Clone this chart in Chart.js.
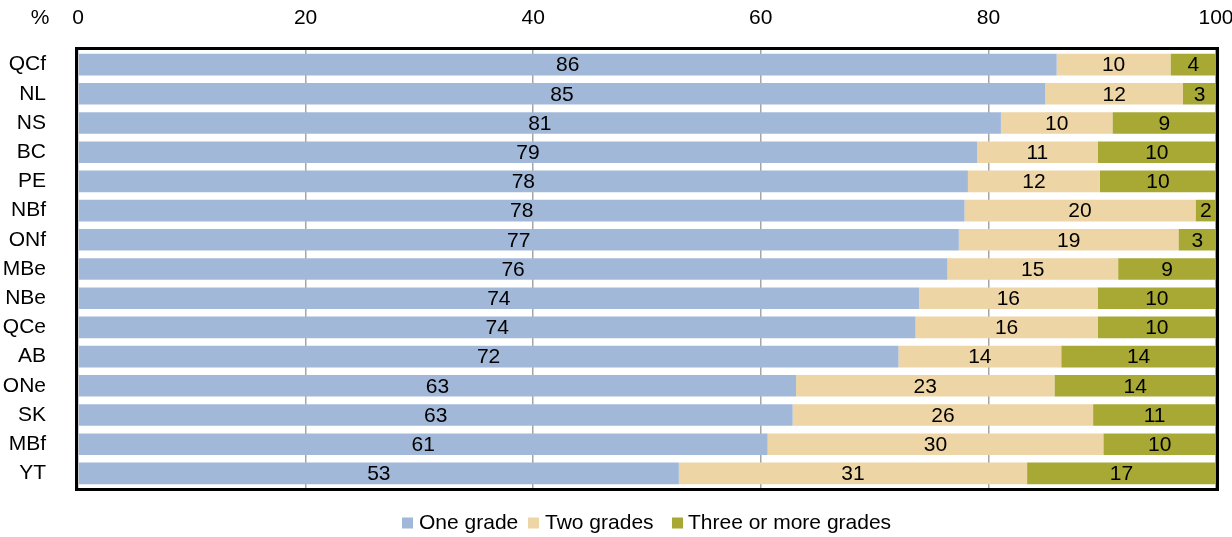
<!DOCTYPE html>
<html>
<head>
<meta charset="utf-8">
<script src="https://cdn.jsdelivr.net/npm/chart.js@4.4.1/dist/chart.umd.min.js"></script>
<style>
html,body{margin:0;padding:0;background:#fff;}
#wrap{width:1232px;height:537px;position:relative;}
</style>
</head>
<body>
<div id="wrap"><canvas id="c"></canvas></div>
<script>
const categories = ['QCf','NL','NS','BC','PE','NBf','ONf','MBe','NBe','QCe','AB','ONe','SK','MBf','YT'];
const oneGrade   = [86.0, 85.0, 81.1, 79.0, 78.2, 77.9, 77.4, 76.4, 73.9, 73.6, 72.1, 63.1, 62.8, 60.6, 52.8];
const twoGrades  = [10.0, 12.1,  9.8, 10.6, 11.6, 20.3, 19.3, 15.0, 15.7, 16.0, 14.3, 22.7, 26.4, 29.5, 30.6];
const threePlus  = [ 4.0,  2.9,  9.1, 10.4, 10.2,  1.8,  3.3,  8.6, 10.4, 10.4, 13.6, 14.2, 10.8,  9.9, 16.6];
const seriesNames = ['One grade','Two grades','Three or more grades'];
const seriesColors = ['#A2B8D9', '#EDD5A5', '#A8A935'];
const xTicks = [0, 20, 40, 60, 80, 100];

const FONT = '"Liberation Sans", Arial, sans-serif';
const FS = 21;
const TXT = '#000';

const labelPlugin = {
  id: 'segLabels',
  afterDatasetsDraw(chart) {
    const ctx = chart.ctx;
    ctx.save();
    ctx.font = FS + 'px ' + FONT;
    ctx.fillStyle = TXT;
    ctx.textAlign = 'center';
    ctx.textBaseline = 'middle';
    chart.data.datasets.forEach((ds, i) => {
      const meta = chart.getDatasetMeta(i);
      meta.data.forEach((bar, j) => {
        const cx = (bar.x + bar.base) / 2;
        ctx.fillText(String(Math.round(ds.data[j])), cx, bar.y + 1);
      });
    });
    ctx.restore();
  }
};

const legendPos = [{ box: 402, text: 419 }, { box: 528, text: 545 }, { box: 672, text: 688 }];

const framePlugin = {
  id: 'frame',
  afterDraw(chart) {
    const a = chart.chartArea, ctx = chart.ctx;
    ctx.save();
    ctx.strokeStyle = '#000';
    ctx.lineWidth = 3;
    ctx.strokeRect(a.left - 1.5, a.top - 1.5, a.right - a.left + 3, a.bottom - a.top + 3);
    ctx.font = FS + 'px ' + FONT;
    ctx.fillStyle = TXT;
    ctx.textAlign = 'center';
    ctx.textBaseline = 'middle';
    ctx.fillText('%', 40, 18);
    const ly = 523;
    ctx.textAlign = 'left';
    chart.data.datasets.forEach((ds, i) => {
      const p = legendPos[i];
      ctx.fillStyle = ds.backgroundColor;
      ctx.fillRect(p.box, ly - 5.5, 11, 11);
      ctx.fillStyle = TXT;
      ctx.fillText(ds.label, p.text, ly);
    });
    ctx.restore();
  }
};

new Chart(document.getElementById('c'), {
  type: 'bar',
  data: {
    labels: categories,
    datasets: [
      { label: seriesNames[0], data: oneGrade,  backgroundColor: seriesColors[0] },
      { label: seriesNames[1], data: twoGrades, backgroundColor: seriesColors[1] },
      { label: seriesNames[2], data: threePlus, backgroundColor: seriesColors[2] }
    ]
  },
  options: {
    indexAxis: 'y',
    responsive: true,
    maintainAspectRatio: false,
    animation: false,
    layout: { padding: { left: 0, right: 0, top: 0, bottom: 49 } },
    datasets: { bar: { barPercentage: 0.74, categoryPercentage: 1.0, borderWidth: 0 } },
    scales: {
      x: {
        position: 'top',
        stacked: true,
        min: 0, max: 100,
        afterBuildTicks(scale) { scale.ticks = xTicks.map(v => ({ value: v })); },
        afterFit(scale) { scale.height = 50; scale.paddingRight = 16; scale.paddingLeft = 0; },
        ticks: { font: { size: FS, family: FONT }, color: TXT, padding: 19, maxRotation: 0 },
        grid: { color: '#a6a6a6', lineWidth: 1.5, drawTicks: false },
        border: { display: false }
      },
      y: {
        stacked: true,
        afterFit(scale) { scale.width = 78; },
        ticks: { font: { size: FS, family: FONT }, color: TXT, padding: 32 },
        grid: { display: false, drawTicks: false },
        border: { display: false }
      }
    },
    plugins: {
      legend: { display: false },
      tooltip: { enabled: false }
    }
  },
  plugins: [labelPlugin, framePlugin]
});
</script>
</body>
</html>
